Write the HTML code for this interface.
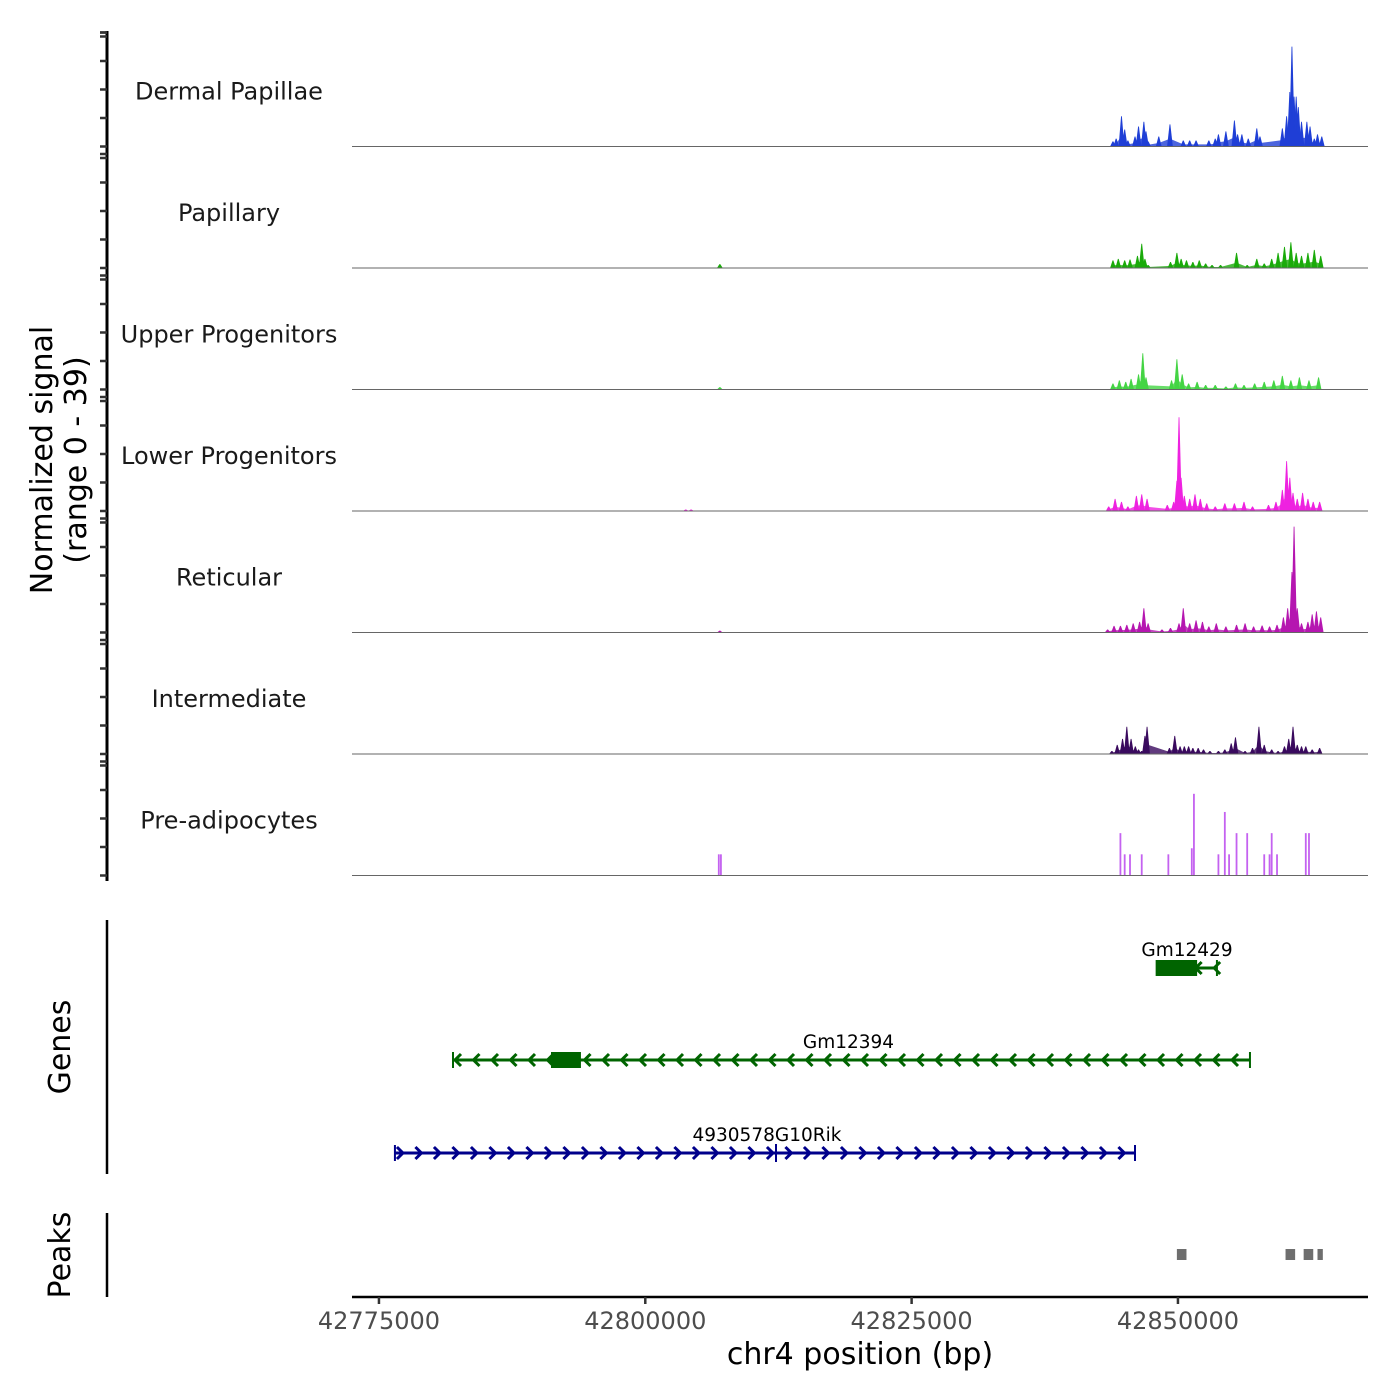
<!DOCTYPE html>
<html><head><meta charset="utf-8">
<style>
html,body{margin:0;padding:0;background:#fff;}
svg{display:block;font-family:"DejaVu Sans","Liberation Sans",sans-serif;}
</style></head>
<body>
<svg id="chart" width="1400" height="1400" viewBox="0 0 1400 1400">
<g id="tracks"></g>
<g id="genes"></g>
<g id="peaks"></g>
<g id="axes"></g>
</svg>
<script>
// ---- data (positions in kb on chr4, signal values 0-39) ----
const trackNames = ["Dermal Papillae","Papillary","Upper Progenitors","Lower Progenitors","Reticular","Intermediate","Pre-adipocytes"];
const trackColors = ["#1f3fd6","#1aaa0a","#44d444","#ee22e0","#b516b0","#3a0a5e","#c462f0"];
const dermalPos = [42843.9,42844.2,42844.7,42845.0,42845.3,42845.97,42846.3,42846.8,42847.0,42847.2,42848.2,42849.25,42850.5,42851.1,42851.7,42852.9,42853.5,42853.8,42854.5,42855.3,42855.6,42856.0,42856.6,42857.4,42857.7,42859.8,42860.2,42860.5,42860.7,42860.9,42861.1,42861.3,42861.6,42862.1,42862.4,42862.8,42863.1,42863.5];
const dermalVal = [1.7,2.6,10,5.6,2,3.3,6.6,8.2,5,1.7,3.3,7.3,2,2,2,2,2.6,4,5,8.6,4,4,2.6,6,3.3,6,10,18,33,16.5,16.5,13,8.2,8.2,6.6,2.6,4,3.3];
const papPos = [42807.0,42843.9,42844.4,42845.0,42845.5,42846.2,42846.6,42846.9,42847.2,42849.3,42849.9,42850.3,42850.8,42851.4,42852.0,42852.6,42853.2,42854.0,42855.5,42856.5,42857.4,42858.1,42858.8,42859.4,42860.0,42860.6,42861.1,42861.6,42862.2,42862.8,42863.4];
const papVal = [1.3,2.5,3,2.5,2.8,4,8,3,1,2,5,3,2.5,2,2.5,1.5,1,1,5,1,3,1.5,3,5,7,8.5,5,4,5,6,4];
const upPos = [42807.0,42843.9,42844.5,42845.1,42845.6,42846.3,42846.7,42847.0,42849.4,42849.9,42850.4,42851.0,42851.8,42852.6,42853.5,42854.5,42855.4,42856.2,42857.2,42858.1,42859.0,42859.8,42860.6,42861.4,42862.3,42863.2];
const upVal = [0.8,2,3,2.5,3.5,5,12,4,3,10,5,2,2.5,1.5,1.5,1,2,1.5,2,2.5,3,4.5,3,4,3,4];
const lowPos = [42803.8,42804.3,42843.5,42844.1,42844.7,42845.3,42846.1,42846.6,42847.1,42849.0,42849.6,42849.9,42850.1,42850.3,42850.6,42851.1,42851.6,42852.1,42852.7,42853.5,42854.4,42855.3,42856.2,42857.0,42858.5,42859.2,42859.8,42860.2,42860.5,42860.8,42861.2,42861.7,42862.2,42862.7,42863.3];
const lowVal = [0.5,0.5,1.5,4,3,1.5,5,5.5,4,2,3,10,31,11,5,4,5.5,4,2.5,1.5,2.5,2.5,3,1.5,2,3,7,16.5,11,6,4,6,4,3,3];
const retPos = [42807.0,42843.4,42844.0,42844.6,42845.2,42845.8,42846.4,42846.8,42847.2,42848.5,42849.3,42850.1,42850.5,42851.1,42851.7,42852.3,42852.9,42853.6,42854.5,42855.5,42856.3,42857.1,42857.9,42858.6,42859.3,42859.9,42860.3,42860.7,42860.9,42861.2,42861.6,42862.2,42862.6,42863.0,42863.4];
const retVal = [0.6,1,2.2,2.2,2.5,3,3.5,8,3,1,1.5,3,8,3,4,3.5,2,3,2,2.5,3,2,2.3,2,2.5,5,8,20,35,8,3,3.5,6,7,5];
const intPos = [42843.8,42844.3,42844.8,42845.2,42845.6,42846.0,42846.3,42846.6,42846.9,42847.1,42849.2,42849.7,42850.2,42850.6,42851.0,42851.4,42851.9,42852.4,42853.0,42853.8,42854.4,42855.0,42855.4,42856.3,42857.0,42857.6,42858.1,42858.8,42859.4,42860.0,42860.4,42860.8,42861.2,42861.6,42862.0,42862.6,42863.3];
const intVal = [1,3,5,9,5,2.5,1.5,1,6,9,2,6,2.5,2.5,2.5,2,2,1.5,1,1,1.5,3.5,5.5,1,2,9,3,1.5,1,2.5,5,9,3,2.5,2.5,1.5,2];
const preadPos = [42806.9,42807.1,42844.6,42845.0,42845.5,42846.6,42849.1,42851.3,42851.5,42853.8,42854.4,42854.8,42855.5,42856.5,42858.1,42858.6,42858.8,42859.3,42862.0,42862.3];
const preadVal = [7,7,14,7,7,7,7,9,27,7,21,7,14,14,7,7,14,7,14,14];
const trackPos = [dermalPos,papPos,upPos,lowPos,retPos,intPos,preadPos];
const trackVal = [dermalVal,papVal,upVal,lowVal,retVal,intVal,preadVal];
const xTicks = [42775000,42800000,42825000,42850000];
const xTickLabels = ["42775000","42800000","42825000","42850000"];
const geneNames = ["Gm12429","Gm12394","4930578G10Rik"];
const geneStart = [42848.0,42781.95,42776.5];
const geneEnd = [42853.66,42856.76,42845.97];
const cdsStart = [42848.0,42791.15,42812.27];
const cdsEnd = [42851.8,42793.96,42812.27];
const geneStrand = [-1,-1,1];
const geneColors = ["#006400","#006400","#00008b"];
const peakStart = [42849.9,42860.1,42861.8,42863.1];
const peakEnd = [42850.8,42861.0,42862.7,42863.6];

// ---- scales ----
const NS="http://www.w3.org/2000/svg";
const X0=352,X1=1368, KB0=42772.47, KB1=42867.84;
function xs(kb){return X0+(kb-KB0)/(KB1-KB0)*(X1-X0);}
const TRACK_H=121.5, BASE0=146.5, YMAX=39, HPX=118;
function ys(i,v){return BASE0+i*TRACK_H - v/YMAX*HPX;}
function mk(tag,attrs,parent){const e=document.createElementNS(NS,tag);for(const k in attrs)e.setAttribute(k,attrs[k]);parent.appendChild(e);return e;}

const gT=document.getElementById('tracks');
trackNames.forEach((name,i)=>{
  const g=mk('g',{},gT);
  
  
  const base=BASE0+i*TRACK_H;
  const lab=mk('text',{x:229,y:base-47,'text-anchor':'middle','font-size':24,fill:'#1a1a1a'},g);
  lab.textContent=name;
  
  
  const pos=trackPos[i], val=trackVal[i];
  const hw = i===6?0.9:1.8;
  pos.forEach((p,j)=>{
    const x=xs(p), y=ys(i,val[j]);
    let d;
    if(i===6) d=`M${x-hw},${base}L${x-hw},${y}L${x+hw},${y}L${x+hw},${base}Z`;
    else d=`M${x-hw*1.6},${base}L${x-0.4},${y}L${x+0.4},${y}L${x+hw*1.6},${base}Z`;
    const s=mk('path',{d:d,fill:trackColors[i]},g);
    
    
  });
  if(i!==6){
    const cl=pos.map((p,j)=>[p,val[j]]).filter(a=>a[0]>42840);
    let pts=`M${xs(cl[0][0])},${base}`;
    cl.forEach(a=>{pts+=`L${xs(a[0])},${base-(base-ys(i,a[1]))*0.35}`;});
    pts+=`L${xs(cl[cl.length-1][0])},${base}Z`;
    const f=mk('path',{d:pts,fill:trackColors[i],opacity:0.8},g);
    
    
  }
  const bl=mk('line',{x1:X0,x2:X1,y1:base,y2:base,stroke:'#666','stroke-width':1},g);
  
  
});

// genes
const gG=document.getElementById('genes');
const geneY=[968,1060,1153];
geneNames.forEach((n,i)=>{
  const g=mk('g',{},gG);
  
  
  const y=geneY[i], c=geneColors[i], x1=xs(geneStart[i]), x2=xs(geneEnd[i]);
  mk('line',{x1:x1,x2:x2,y1:y,y2:y,stroke:c,'stroke-width':3},g);
  mk('line',{x1:x1,x2:x1,y1:y-8,y2:y+8,stroke:c,'stroke-width':2},g);
  mk('line',{x1:x2,x2:x2,y1:y-8,y2:y+8,stroke:c,'stroke-width':2},g);
  const c1=xs(cdsStart[i]),c2=xs(cdsEnd[i]);
  if(c2-c1>2) mk('rect',{x:c1,y:y-8,width:c2-c1,height:16,fill:c},g);
  else mk('line',{x1:c1,x2:c1,y1:y-9,y2:y+9,stroke:c,'stroke-width':2},g);
  const s=geneStrand[i];
  for(let x=x1+2; x<x2-2; x+=18.5){
    const d = s>0 ? `M${x},${y-6}L${x+6},${y}L${x},${y+6}` : `M${x+6},${y-6}L${x},${y}L${x+6},${y+6}`;
    mk('path',{d:d,stroke:c,'stroke-width':3,fill:'none'},g);
  }
  const t=mk('text',{x:(i===0?1187:(x1+x2)/2+(i===1?-3:2)),y:y-12,'text-anchor':'middle','font-size':18.5,fill:'#000'},g);
  t.textContent=n;
  
  
});

// peaks
const gP=document.getElementById('peaks');
peakStart.forEach((p,i)=>{
  const r=mk('rect',{x:xs(p),y:1249,width:xs(peakEnd[i])-xs(p),height:11,fill:'#6e6e6e'},gP);
  
  
});

// axes
const gA=document.getElementById('axes');
mk('line',{x1:107,x2:107,y1:31,y2:881,stroke:'#000','stroke-width':3},gA);
for(let i=0;i<7;i++){const b=BASE0+i*TRACK_H;
  for(let k=0;k<5;k++){const y=b-k*28.5; mk('line',{x1:100,x2:107,y1:y,y2:y,stroke:'#333','stroke-width':2.5},gA);}
  mk('line',{x1:100,x2:107,y1:b-114+4,y2:b-114+4,stroke:'#333','stroke-width':2.5},gA);
}
mk('line',{x1:100,x2:107,y1:32.5,y2:32.5,stroke:'#333','stroke-width':2.5},gA);
mk('line',{x1:107,x2:107,y1:920,y2:1174,stroke:'#000','stroke-width':2.5},gA);
mk('line',{x1:107,x2:107,y1:1213,y2:1297,stroke:'#000','stroke-width':2.5},gA);
mk('line',{x1:X0,x2:X1,y1:1297,y2:1297,stroke:'#000','stroke-width':2.5},gA);
xTicks.forEach((t,i)=>{
  const x=xs(t/1000);
  mk('line',{x1:x,x2:x,y1:1297,y2:1304,stroke:'#333','stroke-width':2.5},gA);
  const tl=mk('text',{x:x,y:1329,'text-anchor':'middle','font-size':24,fill:'#4d4d4d'},gA);
  tl.textContent=xTickLabels[i];
  
  
});
</script>
<script>
const svg=document.getElementById('chart');
function txt(s,attrs,name){const e=document.createElementNS("http://www.w3.org/2000/svg",'text');for(const k in attrs)e.setAttribute(k,attrs[k]);e.textContent=s;


svg.appendChild(e);}
txt("chr4 position (bp)",{x:860,y:1364,'text-anchor':'middle','font-size':30,fill:'#000'},'x-axis-title');
txt("Normalized signal",{x:0,y:0,transform:'translate(52,460) rotate(-90)','text-anchor':'middle','font-size':30,fill:'#000'},'y-axis-title');
txt("(range 0 - 39)",{x:0,y:0,transform:'translate(86,460) rotate(-90)','text-anchor':'middle','font-size':30,fill:'#000'},'y-axis-range');
txt("Genes",{x:0,y:0,transform:'translate(70,1047) rotate(-90)','text-anchor':'middle','font-size':30,fill:'#000'},'genes-axis-title');
txt("Peaks",{x:0,y:0,transform:'translate(70,1255) rotate(-90)','text-anchor':'middle','font-size':30,fill:'#000'},'peaks-axis-title');
</script>
</body></html>
